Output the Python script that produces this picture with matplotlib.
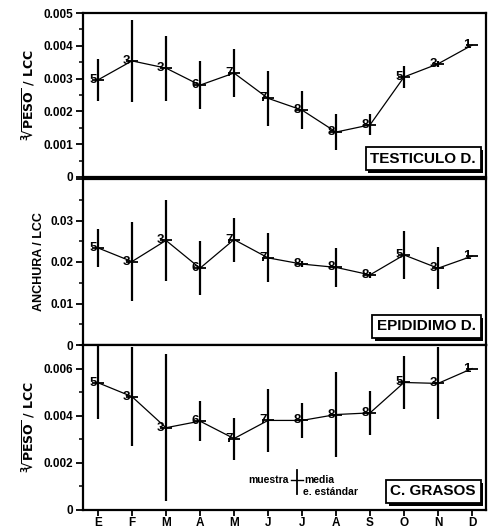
import numpy as np
import matplotlib.pyplot as plt
from matplotlib import patheffects as pe
from matplotlib.ticker import MultipleLocator

plt.rcParams['font.family'] = ['Liberation Sans', 'DejaVu Sans']
plt.rcParams['font.weight'] = 'bold'

# Datos
meses = ['E', 'F', 'M', 'A', 'M', 'J', 'J', 'A', 'S', 'O', 'N', 'D']
n_muestra = [5, 3, 3, 6, 7, 7, 8, 8, 8, 5, 3, 1]

testiculo_media = [0.00296, 0.00354, 0.00332, 0.00280, 0.00317, 0.00240,
                   0.00204, 0.00137, 0.00159, 0.00305, 0.00345, 0.00402]
testiculo_sd = [0.00063, 0.00125, 0.00099, 0.00073, 0.00073, 0.00084,
                0.00057, 0.00054, 0.00032, 0.00034, 0.00010, 0.0]

epididimo_media = [0.0234, 0.0201, 0.0252, 0.0185, 0.0254, 0.0210,
                   0.0195, 0.0187, 0.0169, 0.0217, 0.0185, 0.0214]
epididimo_sd = [0.0045, 0.0096, 0.0097, 0.0065, 0.0053, 0.0059,
                0.0008, 0.0047, 0.0008, 0.0058, 0.0051, 0.0]

grasos_media = [0.00540, 0.00481, 0.00349, 0.00377, 0.00303, 0.00380,
                0.00380, 0.00405, 0.00412, 0.00541, 0.00537, 0.00600]
grasos_sd = [0.00155, 0.00210, 0.00312, 0.00084, 0.00089, 0.00134,
             0.00075, 0.00182, 0.00094, 0.00112, 0.00153, 0.0]

x = np.arange(len(meses))

fig = plt.figure(figsize=(4.89, 5.31), dpi=100)
W, H = 489, 531


def add_ax(top_px, bot_px):
    left, right = 83, 486
    return fig.add_axes([left / W, 1 - bot_px / H, (right - left) / W, (bot_px - top_px) / H])


ax1 = add_ax(13, 177)
ax2 = add_ax(179, 345)
ax3 = add_ax(345, 510)

peso_lab = r'$^{3}\!\!\sqrt{\mathbf{PESO}}\ \mathbf{/\ LCC}$'
paneles = [
    (ax1, testiculo_media, testiculo_sd, 0.005, 0.001, 0.0005, 'TESTICULO D.',
     peso_lab, ['0', '0.001', '0.002', '0.003', '0.004', '0.005']),
    (ax2, epididimo_media, epididimo_sd, 0.04, 0.01, 0.005, 'EPIDIDIMO D.',
     'ANCHURA / LCC', ['0', '0.01', '0.02', '0.03', '']),
    (ax3, grasos_media, grasos_sd, 0.007, 0.002, 0.001, 'C. GRASOS',
     peso_lab, ['0', '0.002', '0.004', '0.006']),
]

for ax, media, sd, ymax, major, minor, titulo, ylab, yticklabels in paneles:
    media = np.array(media)
    sd = np.array(sd)
    ax.plot(x, media, color='black', lw=0.9, zorder=2)
    ax.vlines(x, media - sd, media + sd, color='black', lw=1.6, zorder=3)
    ax.plot(x, media, ls='none', marker='_', ms=8, mew=1.3, color='black', zorder=4)
    for xi, yi, n in zip(x, media, n_muestra):
        ax.annotate(str(n), (xi, yi), xytext=(-1, 0), textcoords='offset points',
                    ha='right', va='center', fontsize=9.5, fontweight='bold')
    ax.set_xlim(-0.44, 11.41)
    ax.set_ylim(0, ymax)
    ticks = np.arange(0, ymax + major / 2, major)
    ax.set_yticks(ticks)
    ax.set_yticklabels(yticklabels[:len(ticks)], fontsize=8.5, fontweight='bold')
    ax.yaxis.set_minor_locator(MultipleLocator(minor))
    ax.tick_params(axis='y', which='major', length=5, width=1.3, direction='out', pad=2)
    ax.tick_params(axis='y', which='minor', length=3, width=1.1, direction='out')
    ax.set_xticks(x)
    ax.tick_params(axis='x', length=4, width=1.3, direction='out', pad=1)
    for s in ax.spines.values():
        s.set_linewidth(1.6)
    ax.set_ylabel(ylab, fontsize=9, fontweight='bold', labelpad=4)
    t = ax.text(0.975, 0.07, titulo, transform=ax.transAxes, ha='right', va='bottom',
                fontsize=11, fontweight='bold',
                bbox=dict(boxstyle='square,pad=0.3', fc='white', ec='black', lw=1.3))
    t.get_bbox_patch().set_path_effects([
        pe.SimplePatchShadow(offset=(2, -2), shadow_rgbFace='black', alpha=1), pe.Normal()])

ax1.set_xticklabels([])
ax2.set_xticklabels([])
ax1.tick_params(axis='x', length=0)
ax3.set_xticklabels(meses, fontsize=8.5, fontweight='bold')

# leyenda
ax3.plot([0.531, 0.531], [0.096, 0.240], transform=ax3.transAxes, color='black', lw=1.3)
ax3.plot([0.515, 0.547], [0.18, 0.18], transform=ax3.transAxes, color='black', lw=1.0)
ax3.text(0.51, 0.18, 'muestra', transform=ax3.transAxes, ha='right', va='center',
         fontsize=7.5, fontweight='bold')
ax3.text(0.55, 0.18, 'media', transform=ax3.transAxes, ha='left', va='center',
         fontsize=7.5, fontweight='bold')
ax3.text(0.545, 0.11, 'e. estándar', transform=ax3.transAxes, ha='left', va='center',
         fontsize=7.5, fontweight='bold')

fig.savefig('out.png', dpi=100)
